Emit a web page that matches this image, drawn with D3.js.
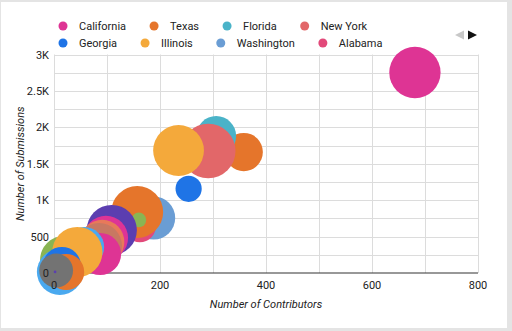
<!DOCTYPE html>
<html>
<head>
<meta charset="utf-8">
<script src="https://d3js.org/d3.v7.min.js"></script>
<style>
  html, body { margin: 0; padding: 0; background: #e4e4e4; }
  #chart { width: 512px; height: 331px; }
  text { font-family: Roboto, Arial, sans-serif; }
</style>
</head>
<body>
<div id="chart"></div>
<script>
// contributors / submissions per state (drawn in this order) ---------------------------------
const states = [
  'California', 'Texas', 'Florida', 'New York', 'Georgia', 'Illinois', 'Washington', 'Alabama',
  'Minnesota', 'Ohio', 'Oregon', 'Maryland', 'Massachusetts', 'Michigan', 'Virginia', 'Pennsylvania',
  'North Carolina', 'Colorado', 'New Jersey', 'Tennessee', 'Utah', 'Missouri', 'Kansas'
];
const contributors = [681, 358, 306, 291, 254, 235, 188, 162, 157, 19, 11, 160, 109, 98, 91, 85, 87, 57, 44, 15, 23, 4, 2];
const submissions = [2753, 1661, 1881, 1675, 1156, 1682, 755, 645, 838, 178, 14, 728, 590, 481, 426, 371, 261, 357, 288, 96, 14, 34, 14];
const bubbleSize = [94, 70, 73, 100, 48, 93, 79, 59, 95, 88, 84, 27, 92, 81, 81, 84, 77, 73, 92, 70, 66, 62, 5];

const xTicks = [0, 200, 400, 600, 800];
const xTickLabels = ['0', '200', '400', '600', '800'];
const yTicks = [0, 500, 1000, 1500, 2000, 2500, 3000];
const yTickLabels = ['0', '500', '1K', '1.5K', '2K', '2.5K', '3K'];

// one colour per series
const colors = [
  '#de3494', '#e5752b', '#4ab3c8', '#e26769', '#1f74e6', '#f4a93b', '#6a9dd4', '#e2497a',
  '#e5752b', '#8ab553', '#4aa9ef', '#8ab553', '#5b3eb0', '#dd3496', '#e8795a', '#c87862',
  '#de3494', '#4aa9ef', '#f4a93b', '#1f74e6', '#e5752b', '#737373', '#5b3eb0'
];

const width = 512;
const height = 331;

const svg = d3.select('#chart').append('svg')
  .attr('width', width)
  .attr('height', height);

// card
svg.append('rect')
  .attr('x', 1)
  .attr('y', 2)
  .attr('width', 506)
  .attr('height', 326)
  .attr('fill', '#fff');

// scales ------------------------------------------------------------------------------------
const x = d3.scaleLinear().domain([0, 800]).range([54, 478]);
const y = d3.scaleLinear().domain([0, 3000]).range([273, 54.5]);
const r = d3.scaleLinear().domain([0, d3.max(bubbleSize)]).range([0, 27.3]);

// grid
const grid = svg.append('g');
grid.selectAll('.vgrid')
  .data(d3.range(0, 801, 100))
  .enter().append('line')
  .attr('x1', d => x(d) + 0.5)
  .attr('x2', d => x(d) + 0.5)
  .attr('y1', y(3000))
  .attr('y2', y(0))
  .attr('stroke', '#dcdcdc')
  .attr('stroke-width', 1);
grid.selectAll('.hgrid')
  .data(d3.range(250, 3001, 250))
  .enter().append('line')
  .attr('x1', x(0))
  .attr('x2', x(800))
  .attr('y1', d => Math.round(y(d)) + 0.5)
  .attr('y2', d => Math.round(y(d)) + 0.5)
  .attr('stroke', '#dcdcdc')
  .attr('stroke-width', 1);

// baseline
svg.append('line')
  .attr('x1', x(0))
  .attr('x2', x(800))
  .attr('y1', y(0))
  .attr('y2', y(0))
  .attr('stroke', '#333')
  .attr('stroke-width', 1.2);

// bubbles -----------------------------------------------------------------------------------
const data = states.map((s, i) => ({
  state: s,
  contributors: contributors[i],
  submissions: submissions[i],
  size: bubbleSize[i],
  color: colors[i]
}));

svg.append('g')
  .selectAll('circle')
  .data(data)
  .enter().append('circle')
  .attr('cx', d => x(d.contributors))
  .attr('cy', d => y(d.submissions))
  .attr('r', d => r(d.size))
  .attr('fill', d => d.color);

// tick labels (drawn over the bubbles) -----------------------------------------------------
svg.append('g')
  .selectAll('text')
  .data(yTicks)
  .enter().append('text')
  .attr('x', 49)
  .attr('y', d => y(d) + 4)
  .attr('text-anchor', 'end')
  .attr('font-size', '11px')
  .attr('fill', '#222')
  .text((d, i) => yTickLabels[i]);

svg.append('g')
  .selectAll('text')
  .data(xTicks)
  .enter().append('text')
  .attr('x', d => x(d))
  .attr('y', 289)
  .attr('text-anchor', 'middle')
  .attr('font-size', '11px')
  .attr('fill', '#222')
  .text((d, i) => xTickLabels[i]);

// axis titles
svg.append('text')
  .attr('x', (x(0) + x(800)) / 2)
  .attr('y', 308)
  .attr('text-anchor', 'middle')
  .attr('font-size', '11px')
  .attr('font-style', 'italic')
  .attr('fill', '#222')
  .text('Number of Contributors');

svg.append('text')
  .attr('transform', 'translate(24,' + ((y(0) + y(3000)) / 2) + ') rotate(-90)')
  .attr('text-anchor', 'middle')
  .attr('font-size', '11px')
  .attr('font-style', 'italic')
  .attr('fill', '#222')
  .text('Number of Submissions');

// legend: two rows of four -----------------------------------------------------------------
const legendRows = [states.slice(0, 4), states.slice(4, 8)];
legendRows.forEach((row, ri) => {
  let cx = 63;
  const cy = 26 + ri * 17;
  row.forEach((name, j) => {
    const idx = ri * 4 + j;
    svg.append('circle')
      .attr('cx', cx)
      .attr('cy', cy)
      .attr('r', 4.5)
      .attr('fill', colors[idx]);
    const t = svg.append('text')
      .attr('x', cx + 16)
      .attr('y', cy + 4)
      .attr('font-size', '11px')
      .attr('fill', '#222')
      .text(name);
    cx = cx + 16 + t.node().getComputedTextLength() + 28;
  });
});

// legend paging arrows
svg.append('path')
  .attr('d', 'M464,30.5 L464,39.5 L455,35 Z')
  .attr('fill', '#c8c8c8');
svg.append('path')
  .attr('d', 'M468,30.5 L468,39.5 L477,35 Z')
  .attr('fill', '#111');
</script>
</body>
</html>
